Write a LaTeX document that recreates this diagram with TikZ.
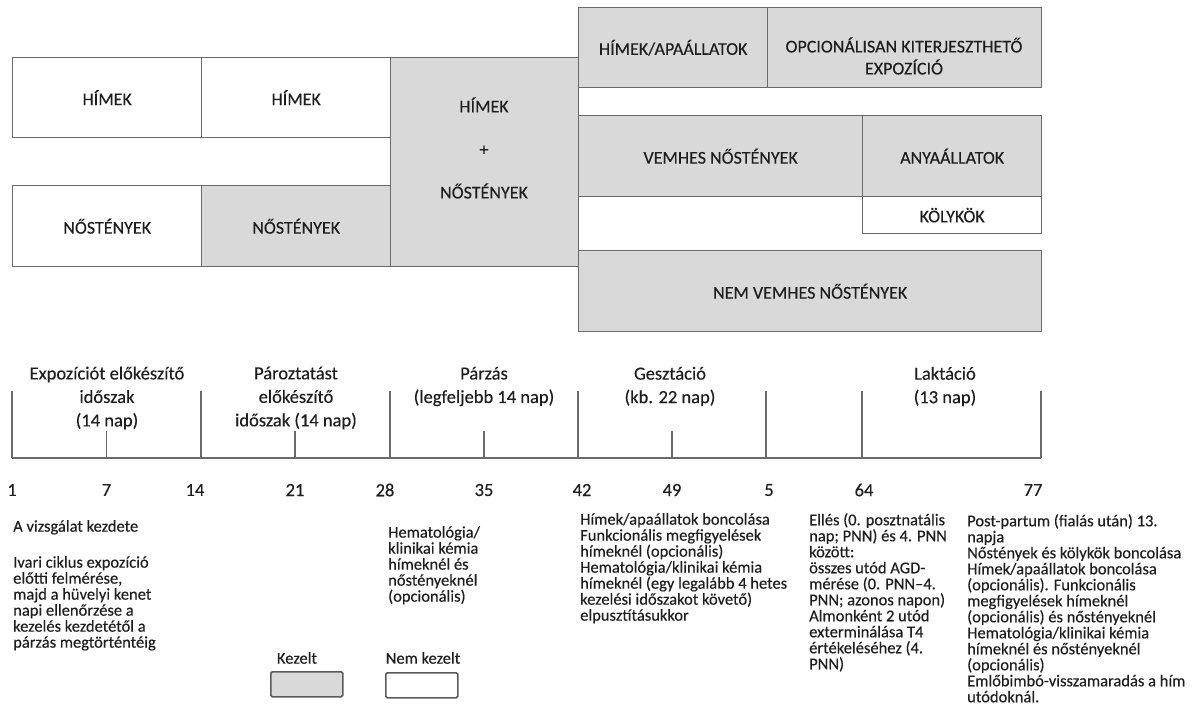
\documentclass[tikz,border=0pt]{standalone}
\usepackage{fontspec}
\setmainfont{Carlito}[FakeBold=0.3]
\definecolor{boxfill}{HTML}{D9D9D9}
\definecolor{linecol}{HTML}{6A6A6A}
\definecolor{legline}{HTML}{5A5A5A}
\definecolor{txt}{HTML}{1E1E1E}
\newcommand{\boxfont}{\fontsize{18}{22}\selectfont}
\newcommand{\perfont}{\fontsize{18.5}{23.5}\selectfont}
\newcommand{\notefont}{\fontsize{16.5}{16}\selectfont}
\newcommand{\legfont}{\fontsize{16.5}{19}\selectfont}
\begin{document}
\begin{tikzpicture}[x=1pt,y=-1pt,
  box/.style={draw=linecol, line width=1.4pt, inner sep=0pt, anchor=north west, font=\boxfont, text=txt, align=center},
  treated/.style={box, fill=boxfill},
  untreated/.style={box, fill=white},
  boxtext/.style={font=\boxfont, text=txt, align=center, inner sep=0pt},
  tl/.style={draw=linecol, line width=1.4pt},
  period/.style={font=\perfont, align=center, text=txt, inner sep=0pt},
  day/.style={font=\perfont, text=txt, inner sep=0pt},
  note/.style={font=\notefont, align=left, text=txt, anchor=north west, inner sep=0pt},
  legbox/.style={draw=legline, line width=1.5pt, rounded corners=1.5pt, anchor=north west, inner sep=0pt, minimum width=72pt, minimum height=25pt},
  legtext/.style={font=\legfont, text=txt, inner sep=0pt}]
\useasboundingbox (0,0) rectangle (1195,709);

% ---- group boxes ----
\node[untreated, minimum width=189pt, minimum height=80pt] (h1) at (12,57) {HÍMEK};
\node[untreated, minimum width=189pt, minimum height=80pt] (h2) at (201,57) {HÍMEK};
\node[untreated, minimum width=189pt, minimum height=81pt] (n1) at (12,185) {NŐSTÉNYEK};
\node[treated, minimum width=189pt, minimum height=81pt] (n2) at (201,185) {NŐSTÉNYEK};
\node[treated, minimum width=188pt, minimum height=209pt] (hn) at (390,57) {};
\node[boxtext, font=\fontsize{18}{43}\selectfont] (hnt) at (484,148) {HÍMEK\\+\\NŐSTÉNYEK};
\node[treated, minimum width=189pt, minimum height=80pt] (ha) at (578,7) {HÍMEK/APAÁLLATOK};
\node[treated, minimum width=274pt, minimum height=80pt] (opc) at (767,7) {};
\node[boxtext] (opct) at (904,56) {OPCIONÁLISAN KITERJESZTHETŐ\\EXPOZÍCIÓ};
\node[treated, minimum width=284pt, minimum height=81pt] (vn) at (578,115) {VEMHES NŐSTÉNYEK};
\node[treated, minimum width=179pt, minimum height=81pt] (any) at (862,115) {ANYAÁLLATOK};
\node[untreated, minimum width=179pt, minimum height=37pt] (koly) at (862,196) {KÖLYKÖK};
\node[treated, minimum width=463pt, minimum height=81pt] (nvn) at (578,250) {NEM VEMHES NŐSTÉNYEK};

% ---- timeline ----
\coordinate (t1) at (12,458);
\coordinate (t7) at (106.5,458);
\coordinate (t14) at (201,458);
\coordinate (t21) at (295,458);
\coordinate (t28) at (390,458);
\coordinate (t35) at (484,458);
\coordinate (t42) at (578,458);
\coordinate (t49) at (672,458);
\coordinate (t56) at (766,458);
\coordinate (t64) at (862,458);
\coordinate (t77) at (1041,458);
\draw[tl] (t1) -- (t77);
\foreach \t in {t1,t14,t28,t42,t56,t64,t77} \draw[tl] (\t) -- ++(0,-67);
\foreach \t in {t7,t21,t35,t49} \draw[tl] (\t) -- ++(0,-27);

% ---- period labels ----
\node[period] (p1) at (107,398) {Expozíciót előkészítő\\időszak\\(14 nap)};
\node[period] (p2) at (296,398) {Pároztatást\\előkészítő\\időszak (14 nap)};
\node[period] (p3) at (484,386.5) {Párzás\\(legfeljebb 14 nap)};
\node[period] (p4) at (670,386.5) {Gesztáció\\(kb. 22 nap)};
\node[period] (p5) at (945,386.5) {Laktáció\\(13 nap)};

% ---- day labels ----
\node[day] (d1) at (12,490) {1};
\node[day] (d7) at (106.5,490) {7};
\node[day] (d14) at (195,490) {14};
\node[day] (d21) at (295,490) {21};
\node[day] (d28) at (385,490) {28};
\node[day] (d35) at (484,490) {35};
\node[day] (d42) at (582,490) {42};
\node[day] (d49) at (672,490) {49};
\node[day] (d56) at (769,490) {5};
\node[day] (d64) at (864,490) {64};
\node[day] (d77) at (1033,490) {77};

% ---- notes ----
\node[note] (nt1) at (13,520) {A vizsgálat kezdete\\[20pt]Ivari ciklus expozíció\\előtti felmérése,\\majd a hüvelyi kenet\\napi ellenőrzése a\\kezelés kezdetétől a\\párzás megtörténtéig};
\node[note] (nt28) at (388,526) {Hematológia/\\klinikai kémia\\hímeknél és\\nőstényeknél\\(opcionális)};
\node[note] (nt42) at (580,513) {Hímek/apaállatok boncolása\\Funkcionális megfigyelések\\hímeknél (opcionális)\\Hematológia/klinikai kémia\\hímeknél (egy legalább 4 hetes\\kezelési időszakot követő)\\elpusztításukkor};
\node[note] (nt56) at (809,513) {Ellés (0. posztnatális\\nap; PNN) és 4. PNN\\között:\\összes utód AGD-\\mérése (0. PNN–4.\\PNN; azonos napon)\\Almonként 2 utód\\exterminálása T4\\értékeléséhez (4.\\PNN)};
\node[note] (nt77) at (967,514) {Post-partum (fialás után) 13.\\napja\\Nőstények és kölykök boncolása\\Hímek/apaállatok boncolása\\(opcionális). Funkcionális\\megfigyelések hímeknél\\(opcionális) és nőstényeknél\\Hematológia/klinikai kémia\\hímeknél és nőstényeknél\\(opcionális)\\Emlőbimbó-visszamaradás a hím\\utódoknál.};

% ---- legend ----
\node[legtext] (lk) at (297,658) {Kezelt};
\node[legbox, fill=boxfill] (lkb) at (270,671) {};
\node[legtext] (ln) at (423,658) {Nem kezelt};
\node[legbox, fill=white] (lnb) at (385,672) {};
\end{tikzpicture}
\end{document}
